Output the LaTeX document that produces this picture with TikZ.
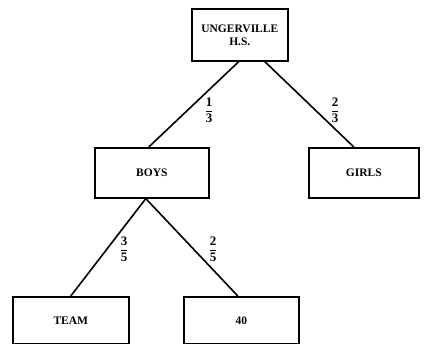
\documentclass[tikz,border=0pt]{standalone}
\usepackage{fontspec}
\setmainfont{Liberation Serif}
\newcommand{\bfrac}[2]{$\displaystyle\frac{\textbf{#1}}{\textbf{#2}}$}
\begin{document}
\begin{tikzpicture}[x=1pt,y=-1pt,
  box/.style={draw,line width=1.6pt,inner sep=0pt,anchor=north west,font=\fontsize{11.5}{13}\selectfont\bfseries,align=center},
  edge/.style={line width=1.6pt},
  frac/.style={font=\fontsize{13}{14}\selectfont}]
\useasboundingbox (0,0) rectangle (424,344);
\node[box,minimum width=96pt,minimum height=52pt] (top) at (191,8) {UNGERVILLE\\H.S.};
\node[box,minimum width=114pt,minimum height=50pt] (boys) at (94,147) {BOYS};
\node[box,minimum width=110pt,minimum height=50pt] (girls) at (308,147) {GIRLS};
\node[box,minimum width=116pt,minimum height=47pt] (team) at (12,296) {TEAM};
\node[box,minimum width=115pt,minimum height=47pt] (forty) at (183,296) {40};
\draw[edge] ([xshift=-1pt]top.south) -- ([xshift=-3pt]boys.north);
\draw[edge] ([xshift=25pt]top.south) -- ([xshift=-10pt]girls.north);
\draw[edge] ([xshift=-6pt]boys.south) -- (team.north);
\draw[edge] ([xshift=-6pt]boys.south) -- ([xshift=-3.5pt]forty.north);
\node[frac] (f1) at (209,110) {\bfrac{1}{3}};
\node[frac] (f2) at (335,110) {\bfrac{2}{3}};
\node[frac] (f3) at (124,249) {\bfrac{3}{5}};
\node[frac] (f4) at (213,249) {\bfrac{2}{5}};
\end{tikzpicture}
\end{document}
